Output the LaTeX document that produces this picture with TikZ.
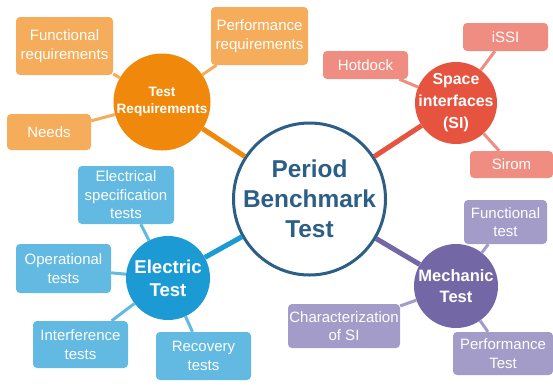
\documentclass[tikz,border=0pt]{standalone}
\usepackage{fontspec}
\setmainfont{Liberation Sans}
\usetikzlibrary{arrows.meta}

\definecolor{maincol}{HTML}{2C5E86}
\definecolor{reqdark}{HTML}{F0890B}
\definecolor{reqlight}{HTML}{F5AD5B}
\definecolor{sidark}{HTML}{E6533F}
\definecolor{silight}{HTML}{F08D82}
\definecolor{elecdark}{HTML}{1B9AD4}
\definecolor{eleclight}{HTML}{62B9E2}
\definecolor{mechdark}{HTML}{7467A6}
\definecolor{mechlight}{HTML}{A39BC8}

\tikzset{
    hub/.style={circle, fill=#1, inner sep=0pt},
    hubtext/.style={text=white, align=center, inner sep=0pt},
    leaf/.style={rectangle, rounded corners=4pt, fill=#1, text=white, align=center, inner sep=0pt,
        font={\fontsize{15}{18.5}\selectfont}},
    trunk/.style={line width=5pt, draw=#1},
    twig/.style={line width=3pt, draw=#1}
}

\begin{document}
\begin{tikzpicture}[x=1pt, y=-1pt]
    \useasboundingbox (0,0) rectangle (553,384);
    % centre
    \node[circle, fill=white, draw=maincol, line width=3pt, minimum size=152pt, inner sep=0pt] (main) at (309.5,199) {};
    \node[text=maincol, align=center, inner sep=0pt, font={\bfseries\fontsize{24.4}{30}\selectfont}] (maintext) at (main) {Period\\Benchmark\\Test};
    % hubs
    \node[hub=reqdark, minimum size=97pt] (req) at (162,102) {};
    \node[hubtext, font={\bfseries\fontsize{13.6}{17}\selectfont}] (reqtext) at (req) {Test\\Requirements};
    \node[hub=sidark, minimum size=82pt] (si) at (456,103) {};
    \node[hubtext, font={\bfseries\fontsize{15.9}{22}\selectfont}] (sitext) at (si) {Space\\interfaces\\(SI)};
    \node[hub=elecdark, minimum size=84pt] (elec) at (168,278) {};
    \node[hubtext, font={\bfseries\fontsize{18.6}{23}\selectfont}] (electext) at (elec) {Electric\\Test};
    \node[hub=mechdark, minimum size=84pt] (mech) at (456,286) {};
    \node[hubtext, font={\bfseries\fontsize{16.5}{21}\selectfont}] (mechtext) at (mech) {Mechanic\\Test};
    % leaves
    \node[leaf=reqlight, minimum width=97pt, minimum height=58pt] (funcreq) at (64.5,46) {Functional\\requirements};
    \node[leaf=reqlight, minimum width=97pt, minimum height=58pt] (perfreq) at (259.5,36) {Performance\\requirements};
    \node[leaf=reqlight, minimum width=84pt, minimum height=36pt] (needs) at (49,132) {Needs};
    \node[leaf=silight, minimum width=85pt, minimum height=28pt] (hotdock) at (365.5,65) {Hotdock};
    \node[leaf=silight, minimum width=85pt, minimum height=28pt] (issi) at (505.5,37) {iSSI};
    \node[leaf=silight, minimum width=83pt, minimum height=27pt] (sirom) at (511.5,164.5) {Sirom};
    \node[leaf=eleclight, minimum width=96pt, minimum height=58pt] (elecspec) at (126,195) {Electrical\\specification\\tests};
    \node[leaf=eleclight, minimum width=95pt, minimum height=49pt] (optests) at (63.5,268.5) {Operational\\tests};
    \node[leaf=eleclight, minimum width=95pt, minimum height=47pt] (interf) at (80.5,344.5) {Interference\\tests};
    \node[leaf=eleclight, minimum width=95pt, minimum height=48pt] (recov) at (203.5,356) {Recovery\\tests};
    \node[leaf=mechlight, minimum width=83pt, minimum height=44pt] (functest) at (505.5,222) {Functional\\test};
    \node[leaf=mechlight, minimum width=112pt, minimum height=44pt] (charsi) at (344,326) {Characterization\\of SI};
    \node[leaf=mechlight, minimum width=100pt, minimum height=43pt] (perftest) at (503,353.5) {Performance\\Test};
    % links
    \draw[trunk=reqdark] (main) -- (req);
    \draw[trunk=sidark] (main) -- (si);
    \draw[trunk=elecdark] (main) -- (elec);
    \draw[trunk=mechdark] (main) -- (mech);
    \draw[twig=reqlight] (req) -- (funcreq);
    \draw[twig=reqlight] (req) -- (perfreq);
    \draw[twig=reqlight] (req) -- (needs);
    \draw[twig=silight] (si) -- (hotdock);
    \draw[twig=silight] (si) -- (issi);
    \draw[twig=silight] (si) -- (sirom);
    \draw[twig=eleclight] (elec) -- (elecspec);
    \draw[twig=eleclight] (elec) -- (optests);
    \draw[twig=eleclight] (elec) -- (interf);
    \draw[twig=eleclight] (elec) -- (recov);
    \draw[twig=mechlight] (mech) -- (functest);
    \draw[twig=mechlight] (mech) -- (charsi);
    \draw[twig=mechlight] (mech) -- (perftest);
\end{tikzpicture}
\end{document}
